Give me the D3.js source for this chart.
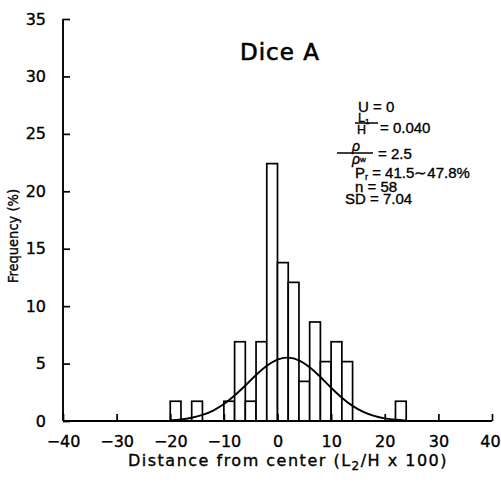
<!DOCTYPE html>
<html><head><meta charset="utf-8">
<script src="https://cdn.jsdelivr.net/npm/d3@7/dist/d3.min.js"></script>
<style>html,body{margin:0;padding:0;background:#fff;} text{stroke:#000;stroke-width:0.35px;}</style>
</head><body>
<svg id="c" width="501" height="483"></svg>
<script>
// Histogram bins (Distance from center, L2/H x 100) and frequency (%)
const binFrom = [-20, -16, -10, -8, -6, -4, -2, 0, 2, 4, 6, 8, 10, 12, 22];
const binTo   = [-18, -14,  -8, -6, -4, -2,  0, 2, 4, 6, 8, 10, 12, 14, 24];
const freq    = [1.72, 1.72, 1.72, 6.90, 1.72, 6.90, 22.41, 13.79, 12.07, 3.45, 8.62, 5.17, 6.90, 5.17, 1.72];
// Fitted normal curve
const curveX = [-20, -18, -16, -14, -12, -10, -8, -6, -4, -2, 0, 2, 4, 6, 8, 10, 12, 14, 16, 18, 20, 22, 24];
const curveY = [0.06, 0.13, 0.27, 0.50, 0.88, 1.45, 2.20, 3.08, 4.02, 4.85, 5.42, 5.58, 5.35, 4.72, 3.85, 2.88, 2.0, 1.28, 0.76, 0.42, 0.21, 0.10, 0.05];
const xTicks = [-40, -30, -20, -10, 0, 10, 20, 30, 40];
const yTicks = [0, 5, 10, 15, 20, 25, 30, 35];
const title = "Dice A";

const svg = d3.select("#c");
const x = d3.scaleLinear().domain([-40, 40]).range([63, 492]);
const y = d3.scaleLinear().domain([0, 35]).range([421, 19]);

const fmt = d => (d < 0 ? "\u2212" + Math.abs(d) : String(d));

// bars
svg.append("g").selectAll("rect").data(freq).join("rect")
  .attr("x", (d, i) => x(binFrom[i]))
  .attr("width", (d, i) => x(binTo[i]) - x(binFrom[i]))
  .attr("y", d => y(d))
  .attr("height", d => y(0) - y(d))
  .attr("fill", "#fff").attr("stroke", "#000").attr("stroke-width", 1.7);

// curve
const line = d3.line().x((d, i) => x(curveX[i])).y(d => y(d)).curve(d3.curveBasis);
svg.append("path").datum(curveY).attr("d", line)
  .attr("fill", "none").attr("stroke", "#000").attr("stroke-width", 1.9);

// axes
const xAxis = d3.axisBottom(x).tickValues(xTicks).tickSize(-7).tickPadding(15).tickFormat(fmt);
const gx = svg.append("g").attr("transform", `translate(0,${y(0)})`).call(xAxis);
const yAxis = d3.axisLeft(y).tickValues(yTicks).tickSize(-7).tickPadding(17).tickFormat(fmt);
const gy = svg.append("g").attr("transform", `translate(${x(-40)},0)`).call(yAxis);
[gx, gy].forEach(g => {
  g.select(".domain").attr("stroke", "#000").attr("stroke-width", 1.9);
  g.selectAll(".tick line").attr("stroke", "#000").attr("stroke-width", 1.7);
  g.selectAll("text").attr("fill", "#000").style("font-family", "'DejaVu Sans', sans-serif").style("font-size", "16px");
});
gy.select(".domain").attr("d", `M0,${y(35)}H-0V${y(0)}H0`);
gx.select(".domain").attr("d", `M${x(-40)},0V0H${x(40)}V0`);
gx.selectAll(".tick").filter(d => d === 40).select("text").attr("dx", -2);

// title
svg.append("text").attr("x", 280).attr("y", 60).attr("text-anchor", "middle")
  .style("font-family", "'DejaVu Sans', sans-serif").style("font-size", "23px").style("letter-spacing", "1px")
  .style("stroke-width", "0.6px")
  .text(title);

// axis labels
const xl = svg.append("text").attr("x", 288).attr("y", 466).attr("text-anchor", "middle")
  .style("font-family", "'DejaVu Sans', sans-serif").style("font-size", "16px").style("letter-spacing", "1.5px");
xl.append("tspan").text("Distance from center (L");
xl.append("tspan").attr("dy", 4).style("font-size", "12px").text("2");
xl.append("tspan").attr("dy", -4).text("/H x 100)");

svg.append("text").attr("transform", "translate(18,236) rotate(-90)").attr("text-anchor", "middle")
  .style("font-family", "'DejaVu Sans Condensed', 'DejaVu Sans', sans-serif").style("font-size", "14.5px")
  .text("Frequency (%)");

// annotation block
const af = "'Liberation Sans', Arial, sans-serif";
const ann = svg.append("g").style("font-family", af).style("font-size", "15px").attr("fill", "#000");
ann.append("text").attr("x", 358).attr("y", 112).text("U = 0");
// L1/H
const l1 = ann.append("text").attr("x", 358).attr("y", 121.5).style("font-size", "12.5px");
l1.append("tspan").text("L");
l1.append("tspan").attr("dy", 2).style("font-size", "8px").text("1");
ann.append("line").attr("x1", 355).attr("x2", 378).attr("y1", 123).attr("y2", 123).attr("stroke", "#000").attr("stroke-width", 1.5);
ann.append("text").attr("x", 357).attr("y", 134).style("font-size", "12.5px").text("H");
ann.append("text").attr("x", 380).attr("y", 133).text("= 0.040");
// rho / rho_w
ann.append("text").attr("x", 352).attr("y", 151).style("font-style", "italic").style("font-size", "14px").text("\u03C1");
ann.append("line").attr("x1", 337).attr("x2", 373).attr("y1", 153).attr("y2", 153).attr("stroke", "#000").attr("stroke-width", 1.5);
const rw = ann.append("text").attr("x", 352).attr("y", 164).style("font-style", "italic").style("font-size", "14px");
rw.append("tspan").text("\u03C1");
rw.append("tspan").attr("dy", -2).style("font-size", "8px").style("font-style", "normal").text("w");
ann.append("text").attr("x", 378).attr("y", 159).text("= 2.5");
// Pr
const pr = ann.append("text").attr("x", 355).attr("y", 177.5);
pr.append("tspan").text("P");
pr.append("tspan").attr("dy", 2).style("font-size", "9px").text("r");
pr.append("tspan").attr("dy", -2).text(" = 41.5\u223C47.8%");
ann.append("text").attr("x", 355).attr("y", 191.5).text("n = 58");
ann.append("text").attr("x", 345).attr("y", 204).text("SD = 7.04");
</script>
</body></html>
